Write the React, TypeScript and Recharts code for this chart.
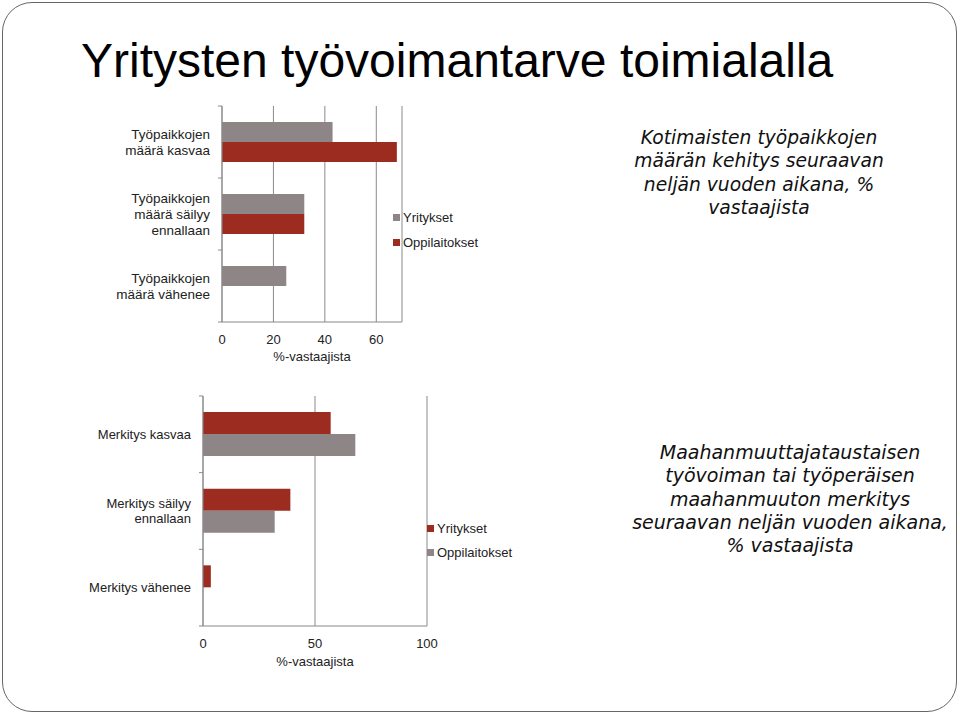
import React from "react"
import { Bar, BarChart, CartesianGrid, Legend, XAxis, YAxis } from "recharts"

// Chart 1: Kotimaisten työpaikkojen määrän kehitys
const jobCategories = ["Työpaikkojen\nmäärä kasvaa", "Työpaikkojen\nmäärä säilyy\nennallaan", "Työpaikkojen\nmäärä vähenee"]
const jobCompanies = [43, 32, 25]
const jobSchools = [68, 32, 0]
const jobTicks = [0, 20, 40, 60]

// Chart 2: Maahanmuuttajataustaisen työvoiman merkitys
const impCategories = ["Merkitys kasvaa", "Merkitys säilyy\nennallaan", "Merkitys vähenee"]
const impCompanies = [57, 39, 3.5]
const impSchools = [68, 32, 0]
const impTicks = [0, 50, 100]

const seriesNames = ["Yritykset", "Oppilaitokset"]

const GRAY = "#8e8686"
const RED = "#9c2c20"
const LINE = "#8a8a8a"
const FONT = "'Liberation Sans', Arial, sans-serif"

const jobData = jobCategories.map((name, i) => ({ name, Yritykset: jobCompanies[i], Oppilaitokset: jobSchools[i] }))
const impData = impCategories.map((name, i) => ({ name, Yritykset: impCompanies[i], Oppilaitokset: impSchools[i] }))

const makeYTick = (band: number, count: number, lh: number, fs: number) => (props: any) => {
  const { x, y, payload, index } = props
  const lines = String(payload.value).split("\n")
  const y0 = y - ((lines.length - 1) * lh) / 2
  return (
    <g>
      <line x1={x - 4} x2={x} y1={y - band / 2} y2={y - band / 2} stroke={LINE} />
      {index === count - 1 && <line x1={x - 4} x2={x} y1={y + band / 2} y2={y + band / 2} stroke={LINE} />}
      <text x={x - 12} y={y0} textAnchor="end" fontSize={fs} fill="#222" fontFamily={FONT}>
        {lines.map((l, i) => (
          <tspan key={i} x={x - 12} y={y0 + i * lh} dy="0.35em">
            {l}
          </tspan>
        ))}
      </text>
    </g>
  )
}

const XTick = (props: any) => {
  const { x, y, payload } = props
  return (
    <text x={x} y={y + 17} dy="0.35em" textAnchor="middle" fontSize={13} fill="#222" fontFamily={FONT}>
      {payload.value}
    </text>
  )
}

const makeLegend = (colors: string[], rowH: number) => () => (
  <div style={{ fontFamily: FONT, fontSize: 13, color: "#222" }}>
    {seriesNames.map((name, i) => (
      <div key={name} style={{ display: "flex", alignItems: "center", height: rowH }}>
        <span style={{ width: 7, height: 7, background: colors[i], marginRight: 3, display: "inline-block" }} />
        {name}
      </div>
    ))}
  </div>
)

export default function App() {
  return (
    <div style={{ position: "absolute", left: 0, top: 0, width: 960, height: 714, background: "#fff", overflow: "hidden", fontFamily: FONT }}>
      <div style={{ position: "absolute", left: 2, top: 2, width: 955, height: 710, boxSizing: "border-box", border: "1px solid #666", borderRadius: 30 }} />
      <div style={{ position: "absolute", left: 81, top: 37, fontSize: 48, lineHeight: "48px", color: "#000", whiteSpace: "nowrap" }}>
        Yritysten työvoimantarve toimialalla
      </div>

      <div style={{ position: "absolute", left: 0, top: 90 }}>
        <BarChart width={520} height={300} data={jobData} layout="vertical" margin={{ top: 16, right: 118, bottom: 0, left: 0 }} barSize={20} barGap={0}>
          <CartesianGrid horizontal={false} stroke={LINE} />
          <XAxis type="number" domain={[0, 70]} ticks={jobTicks} height={68} axisLine={{ stroke: LINE }} tickLine={false} tickSize={0} tickMargin={0} tick={<XTick />}
            label={{ value: "%-vastaajista", position: "insideTop", offset: 30, fontSize: 13, fill: "#222", fontFamily: FONT }} />
          <YAxis type="category" dataKey="name" width={222} axisLine={{ stroke: LINE }} tickLine={false} tickSize={0} tickMargin={0} interval={0} tick={makeYTick(72, 3, 16, 13.5)} />
          <Legend layout="vertical" verticalAlign="middle" align="center" wrapperStyle={{ left: 393, top: 115, width: 120 }} content={makeLegend([GRAY, RED], 25)} />
          <Bar dataKey="Yritykset" fill={GRAY} isAnimationActive={false} />
          <Bar dataKey="Oppilaitokset" fill={RED} isAnimationActive={false} />
        </BarChart>
      </div>

      <div style={{ position: "absolute", left: 0, top: 385 }}>
        <BarChart width={540} height={300} data={impData} layout="vertical" margin={{ top: 11, right: 113, bottom: 0, left: 0 }} barSize={22} barGap={0}>
          <CartesianGrid horizontal={false} stroke={LINE} />
          <XAxis type="number" domain={[0, 100]} ticks={impTicks} height={59} axisLine={{ stroke: LINE }} tickLine={false} tickSize={0} tickMargin={0} tick={<XTick />}
            label={{ value: "%-vastaajista", position: "insideTop", offset: 31, fontSize: 13, fill: "#222", fontFamily: FONT }} />
          <YAxis type="category" dataKey="name" width={203} axisLine={{ stroke: LINE }} tickLine={false} tickSize={0} tickMargin={0} interval={0} tick={makeYTick(76.7, 3, 15, 13)} />
          <Legend layout="vertical" verticalAlign="middle" align="center" wrapperStyle={{ left: 427, top: 131, width: 120 }} content={makeLegend([RED, GRAY], 24)} />
          <Bar dataKey="Yritykset" fill={RED} isAnimationActive={false} />
          <Bar dataKey="Oppilaitokset" fill={GRAY} isAnimationActive={false} />
        </BarChart>
      </div>

      <div style={{ position: "absolute", left: 609, width: 300, top: 126, fontFamily: "'DejaVu Sans', Verdana, sans-serif", fontStyle: "italic", fontSize: 18.7, lineHeight: "23.3px", textAlign: "center", color: "#111" }}>
        Kotimaisten työpaikkojen määrän kehitys seuraavan neljän vuoden aikana, % vastaajista
      </div>
      <div style={{ position: "absolute", left: 620, width: 340, top: 441, fontFamily: "'DejaVu Sans', Verdana, sans-serif", fontStyle: "italic", fontSize: 19, lineHeight: "23.3px", textAlign: "center", color: "#111" }}>
        Maahanmuuttajataustaisen<br />työvoiman tai työperäisen<br />maahanmuuton merkitys<br />seuraavan neljän vuoden aikana,<br />% vastaajista
      </div>
    </div>
  )
}
